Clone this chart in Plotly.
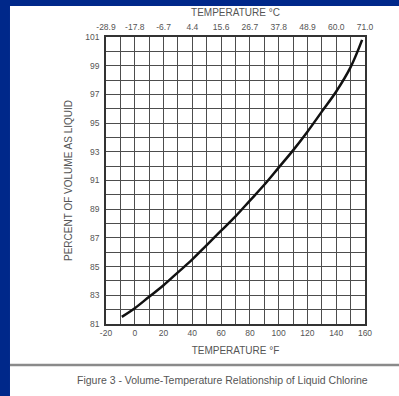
import plotly.graph_objects as go

# Data
temp_f = [-9, 0, 10, 20, 30, 40, 50, 60, 70, 80, 90, 100, 110, 120, 130, 140, 150, 158]
pct_liquid = [81.5, 82.1, 82.9, 83.7, 84.6, 85.5, 86.5, 87.5, 88.5, 89.6, 90.7, 91.9,
              93.1, 94.4, 95.8, 97.2, 98.9, 100.8]

x_ticks_f = [-20, 0, 20, 40, 60, 80, 100, 120, 140, 160]
x_ticks_c = ["-28.9", "-17.8", "-6.7", "4.4", "15.6", "26.7", "37.8", "48.9", "60.0", "71.0"]
y_ticks = [81, 83, 85, 87, 89, 91, 93, 95, 97, 99, 101]

FONT = "Liberation Sans"
TXT = "#555555"
GRID = "#4d4d4d"

fig = go.Figure()
fig.add_trace(go.Scatter(x=temp_f, y=pct_liquid, mode="lines",
                         line=dict(color="#111111", width=2.5, shape="spline"),
                         showlegend=False, hoverinfo="skip"))
fig.add_trace(go.Scatter(x=temp_f, y=pct_liquid, xaxis="x2", mode="lines",
                         line=dict(width=0), opacity=0, showlegend=False, hoverinfo="skip"))

axis_common = dict(showline=True, linecolor="#333333", linewidth=1.5, mirror=True,
                   ticks="", zeroline=False, automargin=False)

fig.update_layout(
    template="none",
    width=399, height=396,
    margin=dict(l=106, r=34, t=37, b=72, autoexpand=False),
    paper_bgcolor="#00288a",
    plot_bgcolor="white",
    font=dict(family=FONT, size=8.5, color=TXT),
    xaxis=dict(range=[-20, 160], tickvals=x_ticks_f, ticktext=[str(v) for v in x_ticks_f],
               showgrid=True, gridcolor=GRID, gridwidth=1.3,
               minor=dict(dtick=10, tick0=0, showgrid=True, gridcolor=GRID, gridwidth=1),
               title=dict(text="TEMPERATURE °F", font=dict(size=10, color=TXT), standoff=10),
               **axis_common),
    xaxis2=dict(range=[-20, 160], overlaying="x", side="top", tickvals=x_ticks_f,
                ticktext=x_ticks_c, showgrid=False, ticks="", zeroline=False, automargin=False,
                ticklabelstandoff=4,
                title=dict(text="TEMPERATURE °C", font=dict(size=10, color=TXT), standoff=3)),
    yaxis=dict(range=[81, 101], tickvals=y_ticks, ticktext=[str(v) for v in y_ticks],
               showgrid=True, gridcolor=GRID, gridwidth=1.3,
               minor=dict(dtick=1, tick0=81, showgrid=True, gridcolor=GRID, gridwidth=1),
               ticklabelstandoff=3,
               title=dict(text="PERCENT OF VOLUME AS LIQUID", font=dict(size=10, color=TXT),
                          standoff=11),
               **axis_common),
    shapes=[
        dict(type="rect", xref="paper", yref="paper", x0=-0.3707, x1=1.3, y0=-0.4, y1=1.108,
             fillcolor="white", line=dict(width=0), layer="below"),
        dict(type="line", xref="paper", yref="paper", x0=-0.3707, x1=1.3, y0=-0.1429, y1=-0.1429,
             line=dict(color="#8a8a8a", width=2.5)),
    ],
    annotations=[
        dict(text="Figure 3 - Volume-Temperature Relationship of Liquid Chlorine",
             xref="paper", yref="paper", x=0.448, y=-0.195, xanchor="center", yanchor="middle",
             showarrow=False, font=dict(size=10.5, color=TXT, family=FONT)),
    ],
)

fig.write_html("out.html", config={"displayModeBar": False},
               post_script="document.body.style.margin='0px';")
